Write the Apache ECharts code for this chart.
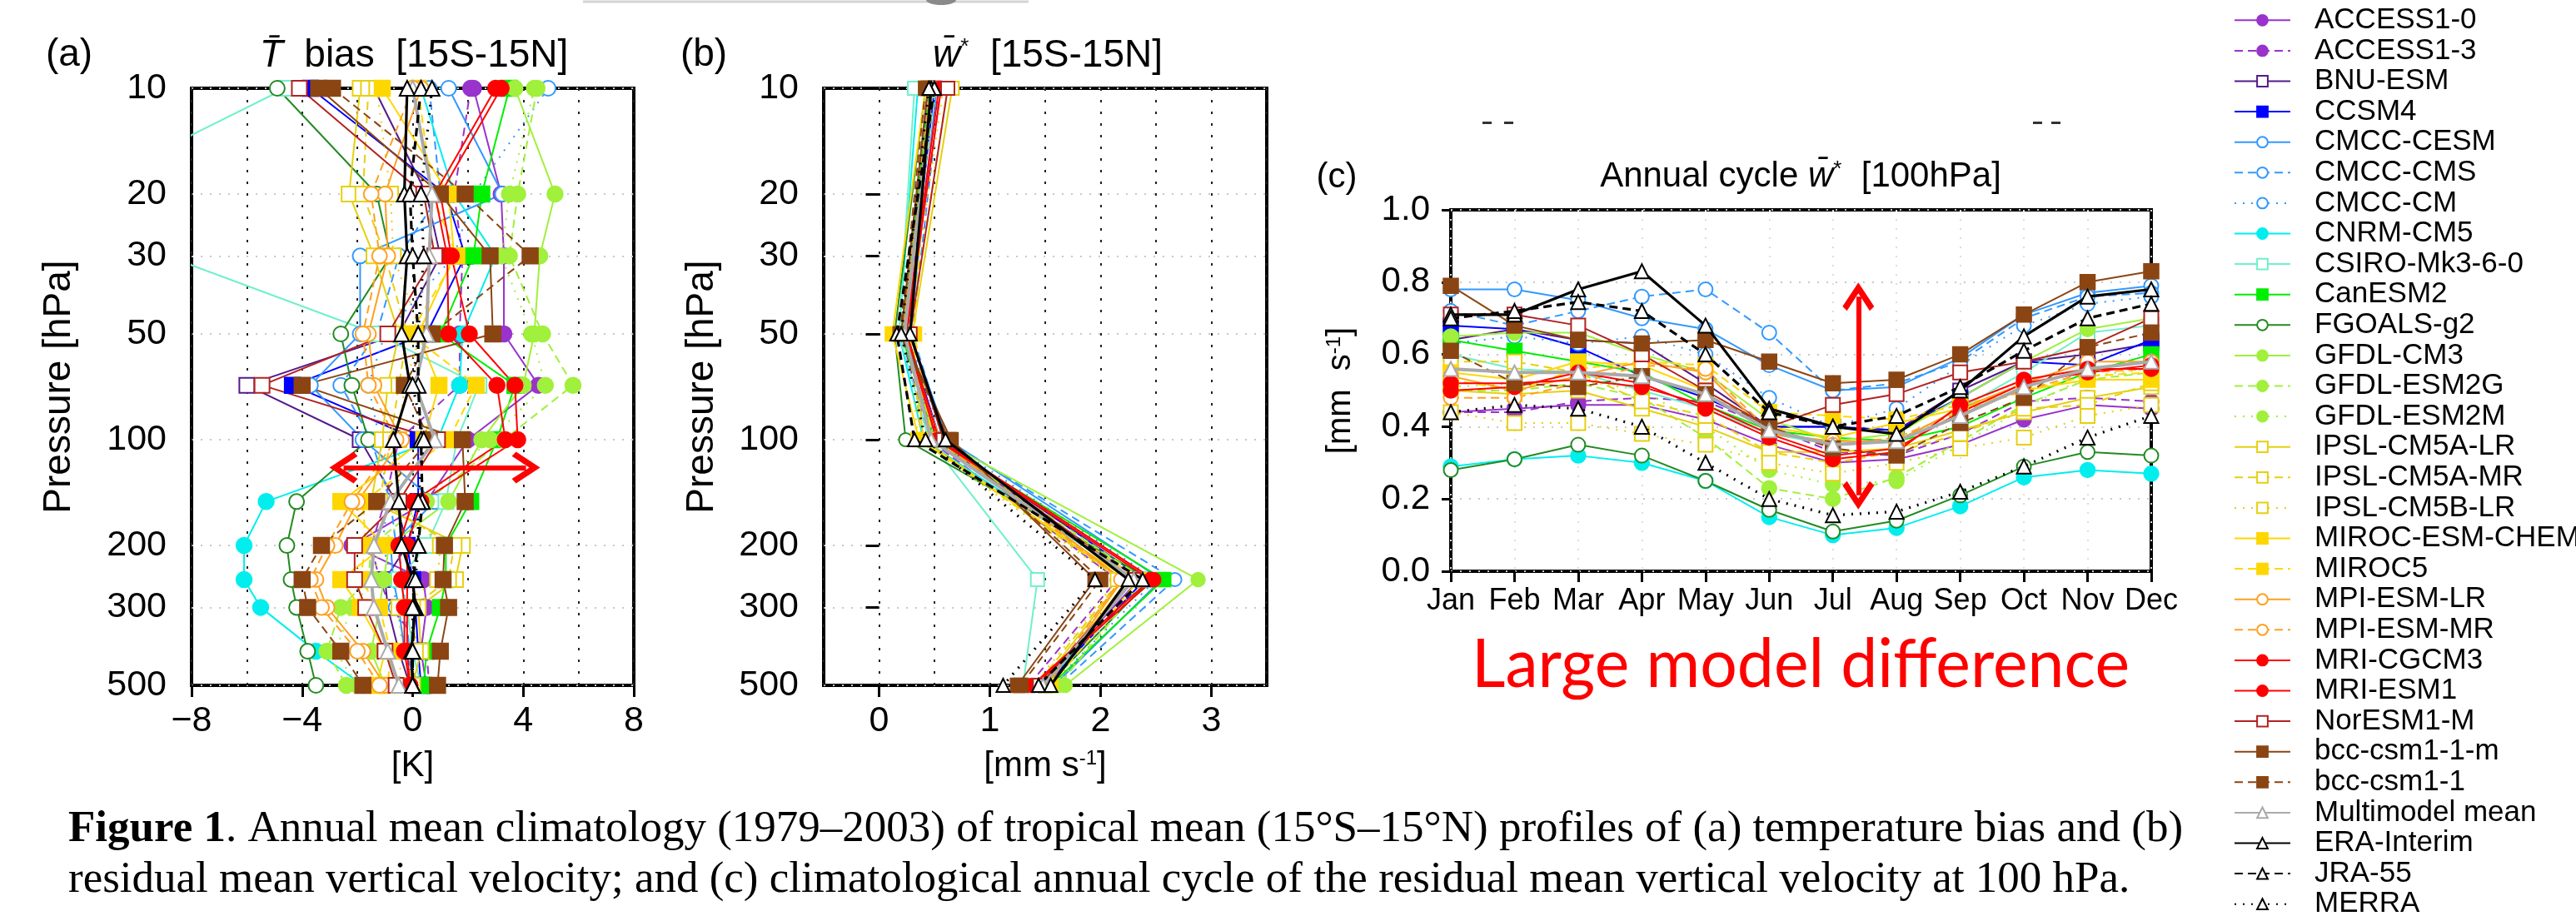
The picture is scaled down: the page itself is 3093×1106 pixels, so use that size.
<!DOCTYPE html>
<html>
<head>
<meta charset="utf-8">
<title>Figure 1</title>
<script src="https://cdn.jsdelivr.net/npm/echarts@6.0.0/dist/echarts.min.js"></script>
<style>
  html, body { margin: 0; padding: 0; background: #fff; }
  #figure { width: 3093px; height: 1106px; }
</style>
</head>
<body>
<div id="figure"></div>
<script>
// pressure levels [hPa], months, tick values
const levelsT = [10, 20, 30, 50, 70, 100, 150, 200, 250, 300, 400, 500]
const levelsW = [10, 50, 100, 250, 500]
const months = ['Jan', 'Feb', 'Mar', 'Apr', 'May', 'Jun', 'Jul', 'Aug', 'Sep', 'Oct', 'Nov', 'Dec']
const pressureTicks = [10, 20, 30, 50, 100, 200, 300, 500]
const wTicks = [0, 1, 2, 3]

const models = [
  'ACCESS1-0', 'ACCESS1-3', 'BNU-ESM', 'CCSM4', 'CMCC-CESM', 'CMCC-CMS', 'CMCC-CM',
  'CNRM-CM5', 'CSIRO-Mk3-6-0', 'CanESM2', 'FGOALS-g2', 'GFDL-CM3', 'GFDL-ESM2G',
  'GFDL-ESM2M', 'IPSL-CM5A-LR', 'IPSL-CM5A-MR', 'IPSL-CM5B-LR', 'MIROC-ESM-CHEM',
  'MIROC5', 'MPI-ESM-LR', 'MPI-ESM-MR', 'MRI-CGCM3', 'MRI-ESM1', 'NorESM1-M',
  'bcc-csm1-1-m', 'bcc-csm1-1', 'Multimodel mean', 'ERA-Interim', 'JRA-55', 'MERRA'
]

// (a) temperature bias [K], one row per model, at levelsT
const tBias = [
  [2.2, 3.2, 3.3, 3.3, 4.55, 2.0, 0.5, -2.2, 0.4, 0.5, 0.3, 0.5],
  [2.1, 1.5, 1.8, 1.7, 1.7, -0.5, -1.0, -1.5, -1.2, -0.8, 0.5, 0.6],
  [-1.4, 0.5, 1.0, -0.5, -6.0, -1.9, -0.6, -0.2, -1.0, -0.9, -0.5, -0.1],
  [-3.7, 1.2, 1.9, 0.5, -4.35, 0.2, 0.2, -0.2, 0.0, 0.1, 0.2, 0.3],
  [1.3, 3.25, -1.9, -1.9, -3.7, -1.8, 0.8, -0.8, -0.7, -0.5, -0.3, 0.2],
  [0.6, 1.0, -0.5, -1.3, -2.6, -1.5, -0.8, -0.6, -0.3, -0.3, -0.1, 0.0],
  [4.9, 2.2, 1.5, -1.0, -1.6, -1.2, -0.9, -1.1, -0.7, -0.6, -0.2, 0.0],
  [0.3, 1.5, 3.0, 1.8, 1.7, 0.9, -5.3, -6.1, -6.1, -5.5, -3.5, -1.8],
  [-4.6, -12.3, -8.9, -1.3, 2.4, 1.6, 1.2, 0.5, -0.5, -0.2, 0.0, 0.3],
  [3.5, 2.5, 2.2, 1.0, 3.7, 3.05, 2.1, 1.2, 1.2, 1.0, 0.5, 0.4],
  [-4.9, -1.3, -0.8, -2.6, -2.2, -1.6, -4.2, -4.55, -4.4, -4.2, -3.8, -3.5],
  [3.7, 5.15, 4.6, 4.4, 4.0, 2.5, 1.3, -0.85, -1.05, -1.2, -1.5, -1.0],
  [4.5, 3.8, 3.5, 4.7, 5.8, 3.3, 0.5, -1.5, -1.6, -2.6, -3.1, -2.4],
  [4.4, 3.5, 3.2, 4.3, 4.8, 2.8, 0.3, -1.2, -1.4, -2.2, -2.8, -2.0],
  [-1.9, -2.3, -1.4, -0.5, -0.9, -1.1, -1.5, 1.8, 1.55, 0.2, 0.3, 0.0],
  [-1.6, -1.8, -1.0, -0.2, -0.5, -0.8, -1.2, 1.5, 1.3, 0.0, 0.1, -0.2],
  [-1.3, -0.8, -0.7, 0.3, -0.3, -0.5, -0.5, 1.0, 0.9, -0.5, -0.4, -0.5],
  [-1.1, 1.3, 1.5, 0.2, 0.95, 0.4, -2.6, -1.0, -2.6, -1.9, -1.0, -1.3],
  [0.2, 0.7, 1.6, -0.1, 2.3, 1.3, -1.8, -1.7, -1.9, -1.2, -0.8, -0.9],
  [0.3, -1.0, -0.9, -1.6, -1.4, -0.4, -2.0, -2.8, -3.5, -3.1, -1.8, -1.0],
  [0.0, -1.5, -1.2, -1.8, -1.6, -0.6, -2.2, -3.1, -3.7, -3.3, -2.0, -1.2],
  [3.0, 0.8, 1.25, 1.3, 3.05, 3.35, 0.0, -0.5, -0.4, -0.3, -0.3, -0.1],
  [3.2, 1.0, 1.4, 2.05, 3.7, 3.8, 0.3, -0.2, -0.2, -0.2, -0.2, -0.1],
  [-4.1, 0.4, 0.8, -0.9, -5.45, 0.9, -0.5, -2.1, -2.1, -1.7, -1.0, -0.6],
  [-3.4, 1.0, 2.8, 2.9, -4.0, 1.8, 1.9, 1.15, 1.1, 1.3, 1.0, 0.9],
  [-2.9, 1.9, 4.25, 0.7, -0.3, 0.6, -1.3, -3.3, -4.0, -3.8, -2.6, -1.8],
  [0.0, 0.7, 0.6, 0.5, 0.1, 0.8, -0.8, -1.4, -1.5, -1.4, -0.9, -0.5],
  [-0.2, -0.3, -0.2, -0.4, -0.1, -0.7, -0.5, -0.4, 0.0, 0.1, -0.05, 0.0],
  [0.3, -0.1, 0.0, 0.2, 0.2, 0.3, 0.35, 0.2, 0.0, 0.05, 0.0, 0.0],
  [0.7, 0.3, 0.4, 0.2, 0.0, 0.4, 0.2, 0.2, 0.1, 0.0, 0.0, 0.0]
]

// (b) residual mean vertical velocity [mm/s] at levelsW
const wStar = [
  [0.45, 0.22, 0.50, 2.35, 1.45],
  [0.44, 0.20, 0.45, 2.15, 1.35],
  [0.48, 0.24, 0.52, 2.30, 1.48],
  [0.50, 0.25, 0.55, 2.40, 1.50],
  [0.52, 0.28, 0.62, 2.55, 1.58],
  [0.55, 0.30, 0.60, 2.67, 1.62],
  [0.50, 0.26, 0.58, 2.50, 1.55],
  [0.35, 0.18, 0.40, 2.30, 1.50],
  [0.32, 0.18, 0.45, 1.43, 1.30],
  [0.46, 0.20, 0.50, 2.57, 1.55],
  [0.42, 0.14, 0.24, 2.45, 1.52],
  [0.48, 0.22, 0.55, 2.88, 1.68],
  [0.50, 0.24, 0.50, 2.40, 1.62],
  [0.50, 0.24, 0.50, 2.38, 1.60],
  [0.66, 0.30, 0.40, 2.20, 1.45],
  [0.62, 0.28, 0.38, 2.18, 1.42],
  [0.58, 0.26, 0.35, 2.15, 1.40],
  [0.42, 0.12, 0.36, 2.25, 1.50],
  [0.45, 0.32, 0.48, 2.35, 1.55],
  [0.47, 0.22, 0.55, 2.20, 1.52],
  [0.46, 0.21, 0.53, 2.18, 1.50],
  [0.54, 0.24, 0.52, 2.45, 1.38],
  [0.56, 0.25, 0.54, 2.48, 1.40],
  [0.62, 0.28, 0.58, 2.30, 1.45],
  [0.44, 0.20, 0.65, 1.95, 1.25],
  [0.42, 0.19, 0.63, 2.00, 1.28],
  [0.48, 0.23, 0.47, 2.30, 1.48],
  [0.47, 0.28, 0.60, 2.25, 1.55],
  [0.50, 0.16, 0.32, 2.38, 1.44],
  [0.45, 0.20, 0.42, 1.95, 1.12]
]

// (c) annual cycle of w* at 100 hPa [mm/s], Jan..Dec
const wCycle = [
  [0.44, 0.45, 0.46, 0.46, 0.42, 0.35, 0.30, 0.31, 0.35, 0.42, 0.46, 0.45],
  [0.44, 0.44, 0.47, 0.48, 0.47, 0.40, 0.33, 0.32, 0.38, 0.47, 0.48, 0.47],
  [0.64, 0.67, 0.64, 0.63, 0.52, 0.40, 0.40, 0.39, 0.50, 0.58, 0.60, 0.63],
  [0.68, 0.67, 0.62, 0.54, 0.48, 0.40, 0.40, 0.39, 0.48, 0.58, 0.57, 0.64],
  [0.78, 0.78, 0.75, 0.70, 0.67, 0.57, 0.50, 0.51, 0.59, 0.71, 0.77, 0.79],
  [0.72, 0.68, 0.72, 0.76, 0.78, 0.66, 0.50, 0.52, 0.58, 0.70, 0.76, 0.77],
  [0.63, 0.65, 0.63, 0.65, 0.60, 0.48, 0.40, 0.45, 0.57, 0.68, 0.74, 0.76],
  [0.29, 0.31, 0.32, 0.30, 0.25, 0.15, 0.10, 0.12, 0.18, 0.26, 0.28, 0.27],
  [0.60, 0.56, 0.55, 0.50, 0.45, 0.38, 0.35, 0.36, 0.45, 0.55, 0.66, 0.68],
  [0.64, 0.61, 0.58, 0.55, 0.46, 0.39, 0.37, 0.36, 0.40, 0.48, 0.55, 0.60],
  [0.28, 0.31, 0.35, 0.32, 0.25, 0.17, 0.11, 0.14, 0.21, 0.29, 0.33, 0.32],
  [0.65, 0.66, 0.66, 0.60, 0.55, 0.42, 0.36, 0.38, 0.48, 0.58, 0.67, 0.70],
  [0.50, 0.50, 0.52, 0.48, 0.37, 0.23, 0.20, 0.26, 0.36, 0.46, 0.53, 0.55],
  [0.51, 0.52, 0.53, 0.50, 0.40, 0.28, 0.24, 0.25, 0.35, 0.45, 0.54, 0.56],
  [0.50, 0.49, 0.50, 0.45, 0.40, 0.33, 0.33, 0.34, 0.39, 0.44, 0.48, 0.51],
  [0.58, 0.58, 0.55, 0.47, 0.43, 0.33, 0.30, 0.33, 0.38, 0.45, 0.46, 0.52],
  [0.44, 0.41, 0.41, 0.38, 0.35, 0.30, 0.27, 0.30, 0.34, 0.37, 0.43, 0.46],
  [0.55, 0.53, 0.58, 0.57, 0.50, 0.40, 0.37, 0.41, 0.45, 0.50, 0.53, 0.53],
  [0.53, 0.50, 0.56, 0.58, 0.57, 0.44, 0.43, 0.42, 0.46, 0.50, 0.54, 0.55],
  [0.54, 0.50, 0.54, 0.58, 0.55, 0.38, 0.36, 0.36, 0.45, 0.52, 0.58, 0.58],
  [0.48, 0.48, 0.52, 0.57, 0.56, 0.39, 0.35, 0.37, 0.44, 0.50, 0.55, 0.56],
  [0.50, 0.51, 0.55, 0.52, 0.45, 0.37, 0.31, 0.33, 0.46, 0.53, 0.56, 0.56],
  [0.52, 0.52, 0.53, 0.51, 0.46, 0.38, 0.32, 0.34, 0.44, 0.52, 0.55, 0.57],
  [0.71, 0.71, 0.68, 0.60, 0.50, 0.40, 0.46, 0.49, 0.55, 0.58, 0.62, 0.70],
  [0.79, 0.68, 0.64, 0.63, 0.64, 0.58, 0.52, 0.53, 0.60, 0.71, 0.80, 0.83],
  [0.61, 0.52, 0.51, 0.54, 0.49, 0.40, 0.34, 0.32, 0.41, 0.48, 0.62, 0.66],
  [0.56, 0.55, 0.55, 0.54, 0.49, 0.39, 0.35, 0.36, 0.43, 0.51, 0.56, 0.58],
  [0.71, 0.71, 0.78, 0.83, 0.68, 0.45, 0.40, 0.38, 0.50, 0.65, 0.76, 0.78],
  [0.70, 0.72, 0.745, 0.72, 0.60, 0.44, 0.40, 0.43, 0.51, 0.61, 0.70, 0.74],
  [0.44, 0.46, 0.45, 0.40, 0.30, 0.20, 0.155, 0.165, 0.22, 0.29, 0.37, 0.43]
]

// red arrows: (a) [K from, K to, hPa], (c) [month index, w from, w to]
const arrowA = [-2.5, 4.1, 120]
const arrowC = [6.4, 0.21, 0.76]

// series styles
const colors = [
  '#9933cc', '#9933cc', '#551a8b', '#0000ff', '#3399ff', '#3399ff', '#3399ff',
  '#00eeee', '#70f0cc', '#00ee00', '#228b22', '#a0f03c', '#a0f03c', '#a0f03c',
  '#e6d010', '#e6d010', '#e6d010', '#ffd700', '#ffd700', '#ffa020', '#ffa020',
  '#ff0000', '#ff0000', '#b22222', '#8b4513', '#8b4513', '#aaaaaa', '#000000',
  '#000000', '#000000'
]
const symbols = [
  'circle', 'circle', 'emptyRect', 'rect', 'emptyCircle', 'emptyCircle', 'emptyCircle',
  'circle', 'emptyRect', 'rect', 'emptyCircle', 'circle', 'circle', 'circle',
  'emptyRect', 'emptyRect', 'emptyRect', 'rect', 'rect', 'emptyCircle', 'emptyCircle',
  'circle', 'circle', 'emptyRect', 'rect', 'rect', 'emptyTriangle', 'emptyTriangle',
  'emptyTriangle', 'emptyTriangle'
]
const dashes = [
  's', 'd', 's', 's', 's', 'd', 'o', 's', 's', 's', 's', 's', 'd', 'o', 's', 'd', 'o',
  's', 'd', 's', 'd', 's', 's', 's', 's', 'd', 's', 's', 'd', 'o'
]
const dashType = { s: 'solid', d: [10, 6], o: [2, 8] }

const SANS = '"Liberation Sans", Arial, Helvetica, sans-serif'
const SERIF = '"Liberation Serif", "Times New Roman", serif'

const chart = echarts.init(document.getElementById('figure'))

const tickStyle = { color: '#000', width: 3 }
const hGrid = { color: '#c8c8c8', width: 2, type: [2, 9] }
const vGrid = { color: '#222', width: 2, type: [3, 11] }
const label = (size) => ({ color: '#000', fontFamily: SANS, fontSize: size })
const sup = { sup: { fontSize: 24, fontFamily: SANS, color: '#000', verticalAlign: 'top', lineHeight: 22 } }

function widthOf(i) {
  if (i === 26) return 4
  if (i >= 27) return 3.2
  return 2
}

const series = []
models.forEach(function(name, i) {
  const base = {
    name: name,
    type: 'line',
    symbol: symbols[i],
    lineStyle: { color: colors[i], width: widthOf(i), type: dashType[dashes[i]] },
    itemStyle: { color: colors[i], borderColor: colors[i], borderWidth: 2.5 },
    emphasis: { disabled: true },
    z: i >= 26 ? 4 : 3
  }
  series.push(Object.assign({}, base, {
    xAxisIndex: 0, yAxisIndex: 0, symbolSize: 18,
    data: levelsT.map((p, k) => [tBias[i][k], p])
  }))
  series.push(Object.assign({}, base, {
    xAxisIndex: 2, yAxisIndex: 1, symbolSize: 16,
    data: levelsW.map((p, k) => [wStar[i][k], p])
  }))
  series.push(Object.assign({}, base, {
    xAxisIndex: 4, yAxisIndex: 2, symbolSize: 17,
    data: months.map((m, k) => [k, wCycle[i][k]])
  }))
})

// thick chevron head pointing up, used at both ends of the arrows
const chevron = 'path://M50,0 L100,80 L86,94 L50,36 L14,94 L0,80 Z'
const arrowLine = {
  symbol: [chevron, chevron],
  symbolSize: [38, 34],
  silent: true,
  label: { show: false },
  emphasis: { disabled: true },
  lineStyle: { color: '#ff0000', width: 6, type: 'solid' }
}
series.push({
  type: 'line', xAxisIndex: 0, yAxisIndex: 0, data: [], z: 6,
  markLine: Object.assign({}, arrowLine, {
    data: [[{ coord: [arrowA[0], arrowA[2]] }, { coord: [arrowA[1], arrowA[2]] }]]
  })
})
series.push({
  type: 'line', xAxisIndex: 4, yAxisIndex: 2, data: [], z: 6,
  markLine: Object.assign({}, arrowLine, {
    data: [[{ coord: [arrowC[0], arrowC[1]] }, { coord: [arrowC[0], arrowC[2]] }]]
  })
})

function pressureAxis(gridIndex, gap) {
  return {
    gridIndex: gridIndex, type: 'log', logBase: 10, min: 10, max: 500, inverse: true,
    axisLine: { show: false },
    axisTick: { length: 16, lineStyle: tickStyle, customValues: pressureTicks },
    axisLabel: Object.assign(label(43), { margin: 30, customValues: pressureTicks, formatter: v => String(Math.round(v)) }),
    splitLine: { show: true, lineStyle: hGrid },
    name: 'Pressure [hPa]', nameLocation: 'middle', nameGap: gap,
    nameTextStyle: label(46)
  }
}

function gridHelper(gridIndex, min, max, interval) {
  return {
    gridIndex: gridIndex, type: 'value', position: 'top', min: min, max: max, interval: interval,
    axisLine: { show: false }, axisTick: { show: false }, axisLabel: { show: false },
    splitLine: { show: true, lineStyle: vGrid }
  }
}

const frame = { show: true, borderColor: '#000', borderWidth: 4, backgroundColor: 'transparent' }

const titleRich = {
  it: { fontStyle: 'italic', fontFamily: SANS, fontSize: 46, color: '#000' },
  st: { fontSize: 26, fontFamily: SANS, color: '#000', verticalAlign: 'top', lineHeight: 30 }
}

function text(x, y, str, size, extra) {
  return Object.assign({
    type: 'text', x: x, y: y, silent: true,
    style: { text: str, fontFamily: SANS, fontSize: size, fill: '#000', align: 'center', verticalAlign: 'middle' }
  }, extra || {})
}

function fitScale(str, font, width) {
  const ctx = document.createElement('canvas').getContext('2d')
  ctx.font = font
  return width / ctx.measureText(str).width
}

const bigNote = 'Large model difference'
const noteScale = fitScale(bigNote, '82px Lato', 790)

const option = {
  animation: false,
  backgroundColor: '#fff',
  textStyle: { fontFamily: SANS },
  grid: [
    Object.assign({ left: 230, top: 106, width: 531, height: 717 }, frame),
    Object.assign({ left: 989, top: 106, width: 532, height: 717 }, frame),
    Object.assign({ left: 1742, top: 252, width: 841, height: 434 }, frame)
  ],
  legend: {
    data: models,
    orient: 'vertical',
    left: 2682,
    top: 6,
    height: 1200,
    padding: 0,
    itemWidth: 67,
    itemHeight: 16,
    itemGap: 0,
    selectedMode: false,
    textStyle: { fontSize: 35, lineHeight: 36.6, color: '#000', fontFamily: SANS, padding: [0, 0, 0, 24] }
  },
  xAxis: [
    {
      gridIndex: 0, type: 'value', min: -8, max: 8, interval: 4,
      axisLine: { show: false },
      axisTick: { length: 14, lineStyle: tickStyle },
      axisLabel: Object.assign(label(43), { margin: 22, formatter: v => String(v).replace('-', '\u2212') }),
      splitLine: { show: false },
      name: '[K]', nameLocation: 'middle', nameGap: 76, nameTextStyle: label(42)
    },
    gridHelper(0, -8, 8, 2),
    {
      gridIndex: 1, type: 'value', min: -0.5, max: 3.5,
      axisLine: { show: false },
      axisTick: { length: 14, lineStyle: tickStyle, customValues: wTicks },
      axisLabel: Object.assign(label(43), { margin: 22, customValues: wTicks }),
      splitLine: { show: false },
      name: '[mm s{sup|-1}]', nameLocation: 'middle', nameGap: 76,
      nameTextStyle: Object.assign(label(42), { rich: sup })
    },
    gridHelper(1, -0.5, 3.5, 0.5),
    {
      gridIndex: 2, type: 'value', min: 0, max: 11, interval: 1,
      axisLine: { show: false },
      axisTick: { length: 13, lineStyle: tickStyle },
      axisLabel: Object.assign(label(36), { margin: 18, formatter: v => months[v] }),
      splitLine: { show: true, lineStyle: { color: '#dddddd', width: 2, type: [2, 9] } }
    }
  ],
  yAxis: [
    pressureAxis(0, 136),
    pressureAxis(1, 123),
    {
      gridIndex: 2, type: 'value', min: 0, max: 1, interval: 0.2,
      axisLine: { show: false },
      axisTick: { length: 11, lineStyle: tickStyle },
      axisLabel: Object.assign(label(42), { margin: 25, formatter: v => v.toFixed(1) }),
      splitLine: { show: true, lineStyle: hGrid },
      name: '[mm  s{sup|-1}]', nameLocation: 'middle', nameGap: 112,
      nameTextStyle: Object.assign(label(40), { rich: sup })
    }
  ],
  series: series,
  graphic: [
    text(83, 66, '(a)', 46),
    text(497, 67, '', 46, { style: { text: '{it|T\u0304}  bias  [15S-15N]', fontFamily: SANS, fontSize: 46, fill: '#000', align: 'center', verticalAlign: 'middle', rich: titleRich } }),
    text(845, 66, '(b)', 46),
    text(1258, 67, '', 46, { style: { text: '{it|w\u0304}{st|*}  [15S-15N]', fontFamily: SANS, fontSize: 46, fill: '#000', align: 'center', verticalAlign: 'middle', rich: titleRich } }),
    text(1605, 213, '(c)', 42),
    text(2162, 212, '', 42, { style: { text: 'Annual cycle {it|w\u0304}{st|*}  [100hPa]', fontFamily: SANS, fontSize: 42, fill: '#000', align: 'center', verticalAlign: 'middle', rich: { it: { fontStyle: 'italic', fontFamily: SANS, fontSize: 42 }, st: titleRich.st } } }),
    {
      type: 'text', x: 2162, y: 799, scaleX: noteScale, silent: true,
      style: { text: bigNote, font: '82px Lato', fill: '#ff0000', align: 'center', verticalAlign: 'middle' }
    },
    {
      type: 'text', x: 82, y: 996, silent: true,
      style: {
        text: '{b|Figure 1}. Annual mean climatology (1979\u20132003) of tropical mean (15\u00b0S\u201315\u00b0N) profiles of (a) temperature bias and (b)',
        fontFamily: SERIF, fontSize: 53, fill: '#000', align: 'left', verticalAlign: 'middle',
        rich: { b: { fontWeight: 'bold', fontFamily: SERIF, fontSize: 53 } }
      }
    },
    {
      type: 'text', x: 82, y: 1057, silent: true,
      style: {
        text: 'residual mean vertical velocity; and (c) climatological annual cycle of the residual mean vertical velocity at 100 hPa.',
        fontFamily: SERIF, fontSize: 53, fill: '#000', align: 'left', verticalAlign: 'middle'
      }
    },
    // scan artefacts along the top edge
    { type: 'line', silent: true, shape: { x1: 700, y1: 2, x2: 1235, y2: 2 }, style: { stroke: '#d4d4d4', lineWidth: 3 } },
    { type: 'ellipse', silent: true, shape: { cx: 1130, cy: 0, rx: 18, ry: 6 }, style: { fill: '#8a8a8a' } },
    { type: 'rect', silent: true, shape: { x: 1780, y: 146, width: 11, height: 3 }, style: { fill: '#333' } },
    { type: 'rect', silent: true, shape: { x: 1806, y: 146, width: 11, height: 3 }, style: { fill: '#333' } },
    { type: 'rect', silent: true, shape: { x: 2441, y: 146, width: 11, height: 3 }, style: { fill: '#333' } },
    { type: 'rect', silent: true, shape: { x: 2463, y: 146, width: 11, height: 3 }, style: { fill: '#333' } }
  ]
}

chart.setOption(option)
</script>
</body>
</html>
